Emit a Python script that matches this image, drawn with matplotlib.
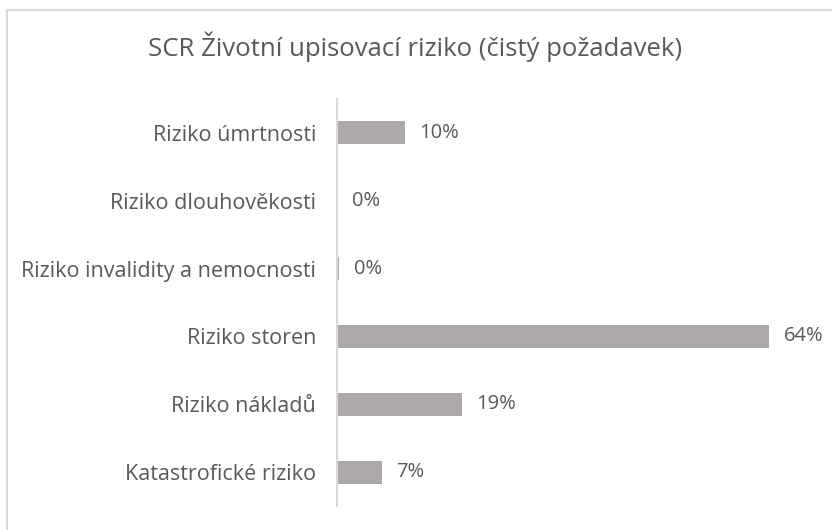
import matplotlib
matplotlib.use('Agg')
import matplotlib.pyplot as plt
from matplotlib.lines import Line2D

# data
categories = ['Riziko úmrtnosti', 'Riziko dlouhověkosti', 'Riziko invalidity a nemocnosti',
              'Riziko storen', 'Riziko nákladů', 'Katastrofické riziko']
values = [10.0, 0.0, 0.3, 64.0, 18.5, 6.6]
labels = ['10%', '0%', '0%', '64%', '19%', '7%']

plt.rcParams['font.family'] = ['Open Sans', 'DejaVu Sans']
text_col = '#595959'
bar_col = '#ADA9A9'

W, H = 832, 530
fig = plt.figure(figsize=(W / 100, H / 100), dpi=100)
ax = fig.add_axes([337 / W, 24 / H, 473 / W, 407 / H])

ypos = list(range(len(categories)))
ax.barh(ypos, values, height=0.34, color=bar_col)
ax.set_ylim(len(categories) - 0.5, -0.5)
ax.set_xlim(0, 70)

for y, v, lab in zip(ypos, values, labels):
    ax.annotate(lab, (v, y), xytext=(10.5, 0), textcoords='offset points',
                va='center', ha='left', fontsize=14.5, color=text_col)

ax.set_yticks(ypos)
ax.set_yticklabels(categories, fontsize=15.5, color=text_col)
ax.tick_params(axis='y', length=0, pad=15)
ax.set_xticks([])
for s in ['top', 'right', 'bottom']:
    ax.spines[s].set_visible(False)
ax.spines['left'].set_color('#D9D9D9')
ax.spines['left'].set_linewidth(1.5)

fig.text(415 / W, 1 - 47 / H, 'SCR Životní upisovací riziko (čistý požadavek)',
         ha='center', va='center', fontsize=18.5, color=text_col)

# chart frame (left and top edges visible)
fig.add_artist(Line2D([7 / W, 7 / W], [0, 1 - 10 / H], transform=fig.transFigure,
                      color='#D9D9D9', lw=1.5))
fig.add_artist(Line2D([7 / W, 1], [1 - 10 / H, 1 - 10 / H], transform=fig.transFigure,
                      color='#D9D9D9', lw=1.5))

fig.savefig('out.png', dpi=100)
